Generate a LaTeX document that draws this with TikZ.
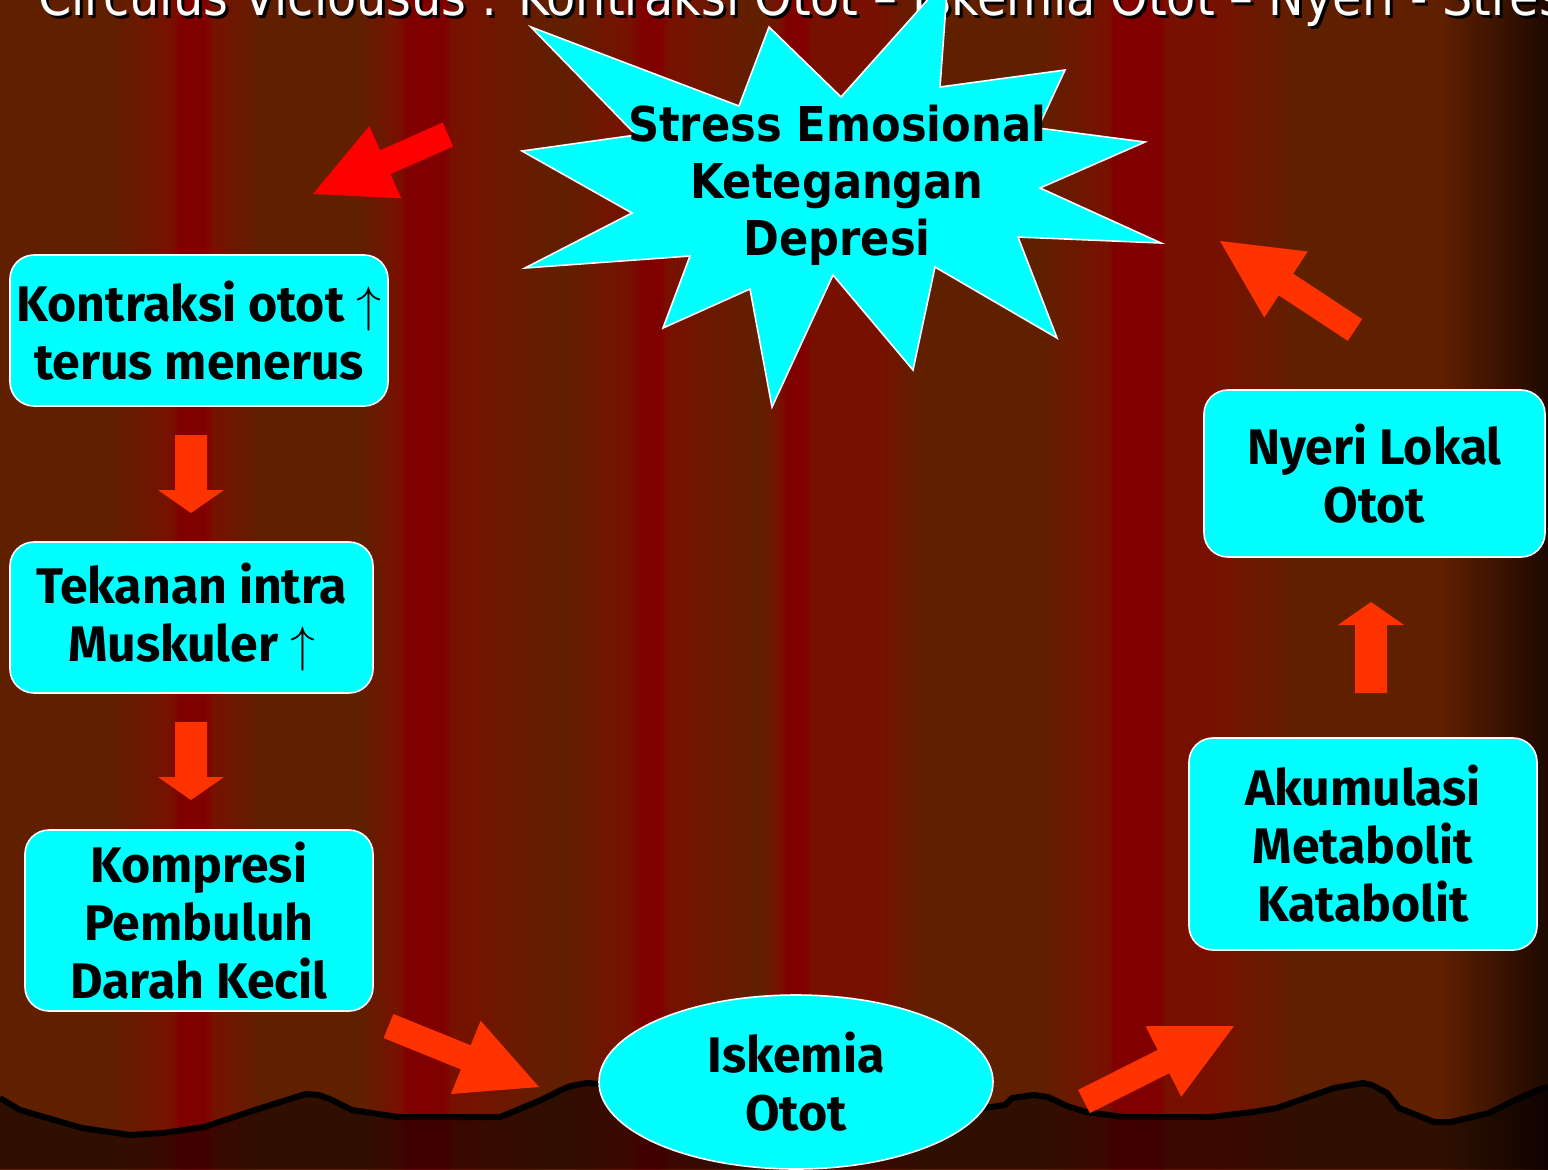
\documentclass[tikz,border=0pt]{standalone}
\usepackage{fontspec}
\setmainfont{Fira Sans}
\newfontfamily\titlefont{DejaVu Sans Condensed}
\usetikzlibrary{calc,shapes.geometric}

\definecolor{bgbrown}{RGB}{96,32,0}
\definecolor{bgmid}{RGB}{120,16,0}
\definecolor{bgred}{RGB}{128,0,0}
\definecolor{bgblack}{RGB}{30,8,0}
\definecolor{arrowred}{RGB}{255,51,0}
\definecolor{purered}{RGB}{255,0,0}
\definecolor{boxcyan}{RGB}{0,255,255}

\tikzset{
  box/.style={draw=white, line width=0.8pt, fill=boxcyan, rounded corners=12pt,
    align=center, inner sep=0pt, font=\fontsize{25}{29}\selectfont\bfseries},
  titletext/.style={anchor=base west, inner sep=0pt, text=white,
    font=\titlefont\fontsize{26.5}{26.5}\selectfont},
  bursttext/.style={align=center, inner sep=0pt,
    font=\titlefont\fontsize{24}{28.5}\selectfont\bfseries}
}

% block arrow: colour, from, to, half shaft, half head, head length
\newcommand{\blockarrow}[6]{%
  \coordinate (hb) at ($(#3)!#6!(#2)$);
  \fill[#1] ($(#2)!#4!90:(#3)$) -- ($(hb)!#4!90:(#3)$) -- ($(hb)!#5!90:(#3)$)
    -- (#3) -- ($(hb)!#5!-90:(#3)$) -- ($(hb)!#4!-90:(#3)$)
    -- ($(#2)!#4!-90:(#3)$) -- cycle;
}

\def\groundline{(0,1098) -- (20,1110) -- (82,1128) -- (130,1135) -- (163,1133)
  -- (204,1127) -- (255,1110) -- (296,1097) -- (306,1094) -- (319,1095)
  -- (332,1100) -- (352,1110) -- (398,1117) -- (500,1117) -- (510,1113)
  -- (541,1100) -- (561,1090) -- (571,1086) -- (587,1083) -- (620,1086)
  -- (960,1106) -- (984,1108) -- (1005,1105) -- (1012,1098) -- (1034,1095)
  -- (1048,1097) -- (1067,1106) -- (1086,1112) -- (1124,1117) -- (1210,1117)
  -- (1253,1112) -- (1277,1108) -- (1334,1088) -- (1363,1083) -- (1372,1085)
  -- (1387,1093) -- (1399,1108) -- (1434,1122) -- (1451,1122) -- (1489,1113)
  -- (1515,1100) -- (1538,1090) -- (1548,1087)}

\begin{document}
\begin{tikzpicture}[x=0.5pt,y=-0.5pt]
  \useasboundingbox (0,0) rectangle (1548,1169);
  \clip (0,0) rectangle (1548,1169);

  % curtain
  \foreach \xa/\ca/\xb/\cb in {0/bgbrown/110/bgbrown, 110/bgbrown/172/bgmid,
      172/bgmid/180/bgred, 180/bgred/205/bgred, 205/bgred/213/bgmid,
      213/bgmid/262/bgbrown, 262/bgbrown/360/bgbrown, 360/bgbrown/398/bgmid,
      398/bgmid/408/bgred, 408/bgred/445/bgred, 445/bgred/452/bgmid,
      452/bgmid/560/bgbrown, 560/bgbrown/632/bgmid, 632/bgmid/642/bgred,
      642/bgred/660/bgred, 660/bgred/668/bgmid, 668/bgmid/760/bgbrown,
      760/bgbrown/780/bgmid, 780/bgmid/788/bgred, 788/bgred/805/bgred,
      805/bgred/812/bgmid, 812/bgmid/880/bgmid, 880/bgmid/920/bgbrown,
      920/bgbrown/1040/bgbrown, 1040/bgbrown/1108/bgmid, 1108/bgmid/1114/bgred,
      1114/bgred/1160/bgred, 1160/bgred/1166/bgmid, 1166/bgmid/1215/bgmid,
      1215/bgmid/1300/bgbrown, 1300/bgbrown/1440/bgbrown, 1440/bgbrown/1548/bgblack}
    \shade[left color=\ca, right color=\cb] (\xa-1,0) rectangle (\xb+1,1169);

  % title
  \node[titletext, text=black] (titleshadow) at (41,18)
    {Circulus Viciousus : Kontraksi Otot – Iskemia Otot – Nyeri - Stres};
  \node[titletext] (title) at (38,15)
    {Circulus Viciousus : Kontraksi Otot – Iskemia Otot – Nyeri - Stres};

  % ground
  \fill[black, opacity=0.5] \groundline -- (1548,1169) -- (0,1169) -- cycle;
  \draw[line width=3pt, line join=round] \groundline;

  % star
  \filldraw[fill=boxcyan, draw=white, line width=0.8pt]
    (531,27) -- (739,106) -- (769,27) -- (841,97) -- (948,-23) -- (940,87)
    -- (1065,70) -- (1038,128) -- (1145,142) -- (1040,188) -- (1161,243)
    -- (1018,237) -- (1057,338) -- (935,267) -- (913,370) -- (833,275)
    -- (772,407) -- (750,289) -- (663,328) -- (690,256) -- (525,268)
    -- (632,213) -- (522,151) -- (636,135) -- cycle;
  \node[bursttext] (stress) at (837,185) {Stress Emosional\\Ketegangan\\Depresi};

  % boxes
  \node[box, minimum width=189pt, minimum height=75.5pt] (kontraksi) at (199,330.5)
    {Kontraksi otot $\uparrow$\\terus menerus};
  \node[box, minimum width=181.5pt, minimum height=75.5pt] (tekanan) at (191.5,617.5)
    {Tekanan intra\\Muskuler $\uparrow$};
  \node[box, minimum width=174pt, minimum height=90.5pt] (kompresi) at (199,920.5)
    {Kompresi\\Pembuluh\\Darah Kecil};
  \node[box, minimum width=174pt, minimum height=106pt] (akumulasi) at (1363,844)
    {Akumulasi\\Metabolit\\Katabolit};
  \node[box, minimum width=170.5pt, minimum height=83.5pt] (nyeri) at (1374.5,473.5)
    {Nyeri Lokal\\Otot};

  % arrows
  \coordinate (a1s) at (448,134.5);  \coordinate (a1t) at (313,194);
  \coordinate (a2s) at (191,435);    \coordinate (a2t) at (191,513);
  \coordinate (a3s) at (191,722);    \coordinate (a3t) at (191,800);
  \coordinate (a4s) at (388.5,1026); \coordinate (a4t) at (539,1087);
  \coordinate (a5s) at (1084,1101.5);\coordinate (a5t) at (1234,1026);
  \coordinate (a6s) at (1371,693);   \coordinate (a6t) at (1371,602);
  \coordinate (a7s) at (1355,330);   \coordinate (a7t) at (1220,241);
  \blockarrow{purered}{a1s}{a1t}{6.5pt}{19.75pt}{39.5pt}
  \blockarrow{arrowred}{a2s}{a2t}{8pt}{16.5pt}{11.5pt}
  \blockarrow{arrowred}{a3s}{a3t}{8pt}{16.5pt}{11.5pt}
  \blockarrow{arrowred}{a4s}{a4t}{6.5pt}{19.75pt}{39.5pt}
  \blockarrow{arrowred}{a5s}{a5t}{6.5pt}{19.75pt}{39.5pt}
  \blockarrow{arrowred}{a6s}{a6t}{8pt}{16.5pt}{11.5pt}
  \blockarrow{arrowred}{a7s}{a7t}{6.5pt}{19.75pt}{39.5pt}

  % ischemia
  \node[ellipse, draw=white, line width=0.8pt, fill=boxcyan, minimum width=197pt,
    minimum height=87pt, align=center, inner sep=0pt,
    font=\fontsize{25}{29}\selectfont\bfseries] (iskemia) at (796,1082) {Iskemia\\Otot};
\end{tikzpicture}
\end{document}
